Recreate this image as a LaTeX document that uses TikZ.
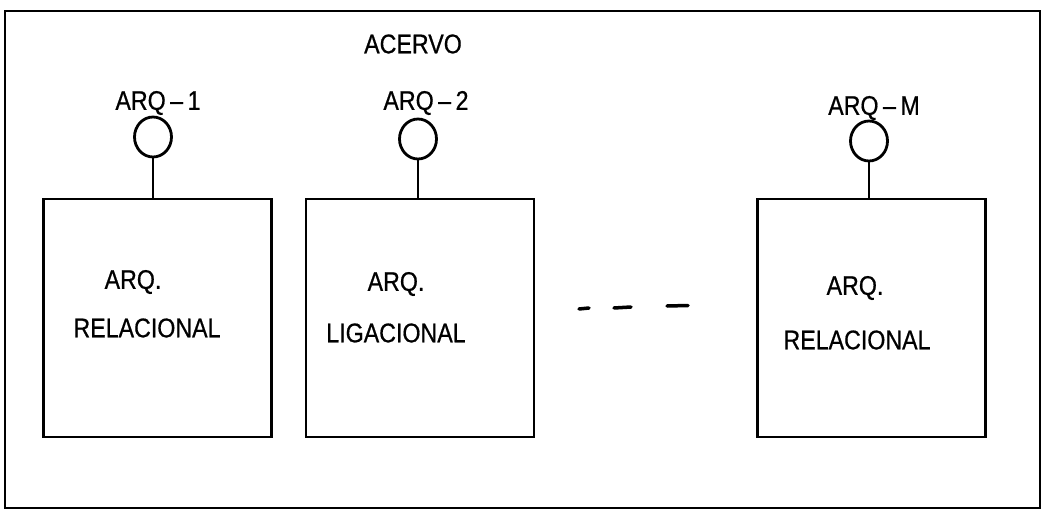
\documentclass[tikz,border=0pt]{standalone}
\usepackage{fontspec}
\usetikzlibrary{shapes.geometric}
\setmainfont{Liberation Sans}
\newfontfamily\condfont[FakeStretch=0.86,FakeBold=0.6]{Liberation Sans}
\begin{document}
\begin{tikzpicture}[x=1pt,y=-1pt,
  frame/.style={draw,line width=1.8pt},
  archbox/.style={draw,line width=2.4pt,minimum width=228pt,minimum height=238pt,inner sep=0pt},
  port/.style={draw,ellipse,line width=2.8pt,minimum width=37pt,minimum height=40pt,inner sep=0pt},
  stem/.style={line width=2.4pt},
  lbl/.style={font=\condfont\fontsize{27}{30}\selectfont,inner sep=0pt},
  gap/.style={line width=3.5pt,line cap=round}]
\useasboundingbox (0,0) rectangle (1046,513);
\draw[frame] (5,11) rectangle (1040,508);
\node[lbl] (acervo) at (413,44) {ACERVO};
% boxes
\node[archbox] (b1) at (157.5,318) {};
\node[archbox] (b2) at (420,318) {};
\node[archbox] (b3) at (871.5,318) {};
% ports
\node[port] (p1) at (153,137) {};
\node[port] (p2) at (418,139) {};
\node[port] (p3) at (869,141) {};
\draw[stem] (p1.south) -- (p1.south |- b1.north);
\draw[stem] (p2.south) -- (p2.south |- b2.north);
\draw[stem] (p3.south) -- (p3.south |- b3.north);
% port labels
\node[lbl] (l1) at (158,103) {ARQ\,–\,1};
\node[lbl] (l2) at (426,103) {ARQ\,–\,2};
\node[lbl] (l3) at (874,108) {ARQ\,–\,M};
% box texts
\node[lbl] (t1a) at (133,282) {ARQ.};
\node[lbl] (t1b) at (147,328) {RELACIONAL};
\node[lbl] (t2a) at (396,284) {ARQ.};
\node[lbl] (t2b) at (396,333) {LIGACIONAL};
\node[lbl] (t3a) at (855,288) {ARQ.};
\node[lbl] (t3b) at (857,340) {RELACIONAL};
% dashes
\coordinate (d1a) at (579,309); \coordinate (d1b) at (589,308);
\coordinate (d2a) at (614,308); \coordinate (d2b) at (631,307);
\coordinate (d3a) at (667,306); \coordinate (d3b) at (688,305.5);
\draw[gap] (d1a) -- (d1b);
\draw[gap] (d2a) -- (d2b);
\draw[gap] (d3a) -- (d3b);
\end{tikzpicture}
\end{document}
